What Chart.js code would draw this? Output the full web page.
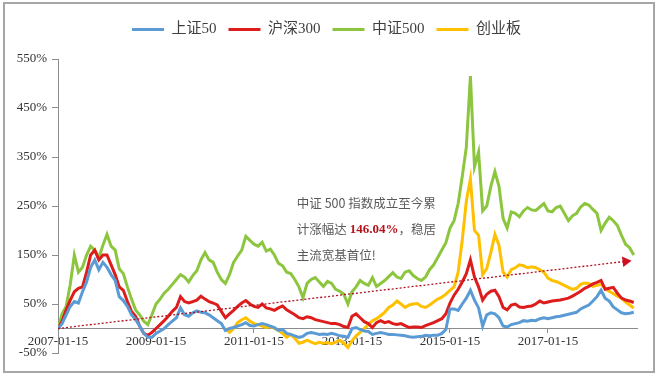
<!DOCTYPE html>
<html>
<head>
<meta charset="utf-8">
<script src="https://cdn.jsdelivr.net/npm/chart.js@4.4.0/dist/chart.umd.min.js"></script>
<style>
  html, body { margin: 0; padding: 0; background: #fff; }
  #wrap { position: relative; width: 660px; height: 377px; }
  #frame { position: absolute; left: 3px; top: 2px; width: 652px; height: 371px;
           border: 2px solid #a6a6a6; box-sizing: border-box; pointer-events: none; }
</style>
</head>
<body>
<div id="wrap"><canvas id="c" width="660" height="377"></canvas><div id="frame"></div></div>
<script>
// months since 2007-01-15
var monthIndex = Array.from({length: 142}, function (_, i) { return i; });

var sz50 = [
  0, 10, 28, 45, 55, 52, 75, 95, 125, 140,
  120, 135, 125, 110, 98, 65, 57, 45, 28, 18,
  5, -10, -18, -18, -10, -5, 0, 8, 15, 22,
  42, 28, 25, 32, 36, 33, 32, 28, 22, 16,
  10, -4, 0, 2, 5, 8, 12, 6, 5, 8,
  10, 8, 5, 2, -4, -2, -10, -12, -15, -18,
  -16, -10, -8, -10, -12, -11, -12, -10, -12, -15,
  -16, -18, 0, 2, -2, -5, -6, -12, -10, -8,
  -10, -12, -12, -13, -14, -15, -17, -18, -17, -16,
  -14, -15, -14, -14, -10, -2, 40, 40, 37, 50,
  62, 78, 58, 42, 5, 28, 32, 30, 22, 5,
  3, 8, 10, 12, 16, 15, 17, 16, 20, 22,
  20, 22, 24, 25, 27, 29, 31, 33, 40, 44,
  48, 56, 65, 78, 62, 56, 44, 38, 32, 30,
  31, 33
];

var hs300 = [
  0, 15, 38, 58, 75, 82, 85, 115, 150, 160,
  140, 150, 150, 130, 110, 85, 78, 55, 35, 25,
  5, -10, -14, -8, 0, 8, 16, 25, 35, 43,
  65, 55, 52, 55, 58, 66, 60, 55, 52, 48,
  35, 22, 30, 37, 45, 52, 57, 50, 45, 43,
  50, 42, 40, 37, 42, 46, 38, 33, 28, 22,
  20, 24, 22, 18, 16, 14, 12, 10, 10, 8,
  4, 2, 25, 30, 22, 14, 10, 2, 12, 16,
  12, 14, 10, 8, 10, 6, 2, 3, 3, 2,
  6, 9, 12, 16, 20, 30, 52, 68, 80, 95,
  112, 140, 105, 85, 58, 70, 76, 78, 65, 43,
  38, 48, 50, 44, 43, 45, 46, 50, 56, 52,
  54, 56, 57, 58, 60, 62, 66, 71, 76, 82,
  86, 91, 94, 98, 80, 82, 84, 72, 62, 58,
  56, 53
];

var zz500 = [
  0, 30, 45, 90, 150, 115, 125, 150, 168, 160,
  145, 170, 192, 168, 160, 122, 112, 85, 60, 38,
  28, 15, 8, 28, 50, 60, 72, 80, 90, 100,
  110, 105, 95, 108, 118, 140, 155, 140, 135, 115,
  100, 92, 110, 135, 148, 160, 188, 180, 172, 168,
  176, 158, 162, 150, 133, 128, 115, 112, 100, 85,
  63, 92, 100, 104, 95, 86, 96, 92, 80, 76,
  70, 50, 75, 85, 98, 92, 88, 104, 86, 92,
  98, 106, 114, 105, 102, 115, 118, 108, 102, 98,
  105, 120, 130, 145, 160, 175, 205, 220, 255, 310,
  370, 515, 330, 360, 240, 250, 290, 320, 290, 225,
  205, 238, 235, 228, 240, 247, 242, 241, 248, 255,
  240, 238, 247, 250, 235, 220, 230, 235, 248, 255,
  252, 243, 235, 200, 215, 227, 220, 210, 190, 172,
  165, 150
];

var cyb = [
  null, null, null, null, null, null, null, null, null, null,
  null, null, null, null, null, null, null, null, null, null,
  null, null, null, null, null, null, null, null, null, null,
  null, null, null, null, null, null, null, null, null, null,
  null, 0, -8, 0, 12, 18, 22, 15, 10, 8,
  5, 2, 4, 0, -4, -10, -18, -12, -20, -30,
  -28, -24, -28, -31, -28, -30, -29, -31, -28, -24,
  -30, -39, -25, -15, -8, 0, 8, 16, 20, 26,
  33, 43, 48, 56, 50, 43, 48, 50, 51, 45,
  43, 48, 54, 60, 64, 70, 78, 85, 115, 180,
  260, 305, 200, 190, 110, 122, 155, 192, 170, 115,
  105, 120, 124, 130, 128, 124, 126, 124, 120, 115,
  103, 98, 96, 92, 88, 84, 80, 82, 90, 93,
  92, 86, 88, 90, 82, 76, 71, 66, 62, 54,
  48, 42
];

var seriesNames = ['上证50', '沪深300', '中证500', '创业板'];
var seriesColors = ['#5b9bd5', '#dd1c1c', '#8cc63f', '#ffc000'];

var trendMonths = [0, 139];
var trendValues = [0, 137];

var noteAt = [58.5, 255]; // month, percent
var noteLines = ['中证 500 指数成立至今累', '计涨幅达 ', '146.04%', '，稳居', '主流宽基首位!'];

var serif = "'Liberation Serif', 'Noto Sans CJK SC', serif";
var cjk = "'Noto Sans CJK SC', sans-serif";

function points(vals) {
  return monthIndex.map(function (m, i) { return {x: m, y: vals[i]}; });
}

var datasets = [sz50, hs300, zz500, cyb].map(function (vals, i) {
  return {
    label: seriesNames[i],
    data: points(vals),
    borderColor: seriesColors[i],
    backgroundColor: seriesColors[i],
    borderWidth: 3,
    pointRadius: 0,
    tension: 0
  };
});

datasets.push({
  label: 'trend',
  data: trendMonths.map(function (m, i) { return {x: m, y: trendValues[i]}; }),
  borderColor: '#b01020',
  backgroundColor: '#d01020',
  borderWidth: 1.3,
  borderDash: [2, 2],
  pointStyle: 'triangle',
  pointRadius: function (ctx) { return ctx.dataIndex === 1 ? 6 : 0; },
  pointBorderWidth: 0,
  rotation: 83,
  order: -1
});

// extra room under the legend
var legendGap = {
  id: 'legendGap',
  beforeInit: function (chart) {
    var fit = chart.legend.fit;
    chart.legend.fit = function () {
      fit.call(chart.legend);
      this.height += 12;
    };
  }
};

var notePlugin = {
  id: 'note',
  afterDatasetsDraw: function (chart) {
    var ctx = chart.ctx;
    var x = chart.scales.x.getPixelForValue(noteAt[0]);
    var y = chart.scales.y.getPixelForValue(noteAt[1]);
    ctx.save();
    ctx.textBaseline = 'middle';
    ctx.font = '12.5px ' + cjk;
    ctx.fillStyle = '#595959';
    ctx.fillText(noteLines[0], x, y);
    ctx.fillText(noteLines[1], x, y + 26);
    var w = ctx.measureText(noteLines[1]).width;
    ctx.font = 'bold 13px ' + serif;
    ctx.fillStyle = '#b5121b';
    ctx.fillText(noteLines[2], x + w, y + 26);
    var w2 = ctx.measureText(noteLines[2]).width;
    ctx.font = '12.5px ' + cjk;
    ctx.fillStyle = '#595959';
    ctx.fillText(noteLines[3], x + w + w2, y + 26);
    ctx.fillText(noteLines[4], x, y + 52);
    ctx.restore();
  }
};

new Chart(document.getElementById('c'), {
  type: 'line',
  data: {datasets: datasets},
  plugins: [legendGap, notePlugin],
  options: {
    responsive: false,
    animation: false,
    devicePixelRatio: 1,
    layout: {padding: {left: 16, right: 23, top: 10, bottom: 24}},
    plugins: {
      tooltip: {enabled: false},
      legend: {
        position: 'top',
        labels: {
          boxWidth: 32,
          boxHeight: 3,
          padding: 12,
          color: '#404040',
          font: {family: serif, size: 15},
          filter: function (item) { return item.datasetIndex < 4; },
          generateLabels: function (chart) {
            return Chart.defaults.plugins.legend.labels.generateLabels(chart).map(function (l) {
              l.lineWidth = 0;
              return l;
            });
          }
        }
      }
    },
    scales: {
      x: {
        type: 'linear',
        position: {y: 0},
        min: 0,
        max: 141.8,
        grid: {drawOnChartArea: false, tickLength: 4, color: '#8c8c8c'},
        border: {color: '#8c8c8c'},
        ticks: {
          stepSize: 24,
          includeBounds: false,
          maxRotation: 0,
          padding: 1,
          color: '#333',
          font: {family: serif, size: 13},
          callback: function (v) { return (2007 + v / 12) + '-01-15'; }
        }
      },
      y: {
        min: -50,
        max: 550,
        afterFit: function (scale) { scale.width = 42; },
        grid: {drawOnChartArea: false, tickLength: 6, color: '#8c8c8c'},
        border: {color: '#8c8c8c'},
        ticks: {
          stepSize: 100,
          padding: 5,
          color: '#333',
          font: {family: serif, size: 13},
          callback: function (v) { return v + '%'; }
        }
      }
    }
  }
});
</script>
</body>
</html>
